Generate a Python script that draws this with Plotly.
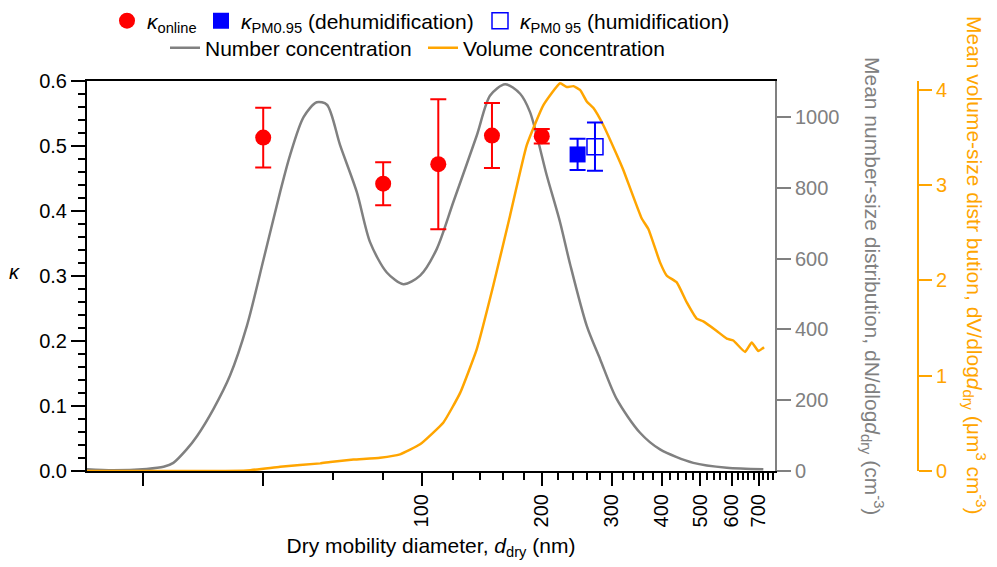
import plotly.graph_objects as go

# ---------------- data ----------------
num_diam = [14.4, 16.8, 20.4, 22.5, 23.8, 25.7, 27.3, 30.0, 33.0, 36.4, 40.1, 44.1, 46.7,
            50.5, 54.5, 57.8, 62.4, 68.7, 74.2, 81.7, 89.9, 99.0, 109.0, 120.0, 137.4,
            148.4, 161.8, 176.5, 186.9, 205.9, 222.3, 235.5, 259.4, 280.2, 308.5, 352.9,
            396.1, 480.1, 582.4, 719.5]
num_conc = [5, 2, 6, 12, 23, 61, 99, 175, 269, 410, 599, 788, 892,
            1000, 1042, 1035, 920, 788, 646, 561, 528, 552, 627, 760, 948,
            1061, 1093, 1066, 1014, 835, 703, 585, 410, 316, 203, 108,
            61, 23, 9, 5]

vol_diam = [14.4, 36.4, 44.1, 55.6, 58.9, 67.4, 78.6, 88.2, 99.0, 113.3, 124.8, 137.4,
            151.2, 166.5, 183.4, 201.9, 222.3, 231.1, 240.1, 249.5, 259.4, 269.6, 285.5,
            308.5, 320.4, 356.4, 370.3, 396.1, 411.9, 436.3, 462.3, 489.6, 508.6, 549.7,
            582.4, 604.8, 647.3, 672.9, 698.9, 722.5]
vol_conc = [0.0, 0.005, 0.045, 0.08, 0.095, 0.12, 0.14, 0.175, 0.28, 0.51, 0.82, 1.28,
            1.95, 2.68, 3.42, 3.84, 4.07, 4.03, 4.04, 4.00, 3.88, 3.81, 3.63,
            3.32, 3.16, 2.65, 2.54, 2.19, 2.05, 1.98, 1.77, 1.60, 1.57, 1.47,
            1.39, 1.37, 1.25, 1.35, 1.26, 1.30]

online_diam = [40, 80, 110, 150, 200]
online_kappa = [0.513, 0.442, 0.472, 0.516, 0.515]
online_err = [0.046, 0.033, 0.100, 0.050, 0.011]

dehum_diam = [246]
dehum_kappa = [0.487]
dehum_err = [0.024]

hum_diam = [272]
hum_kappa = [0.499]
hum_err = [0.037]

x_major = [20, 40, 100, 200, 300, 400, 500, 600, 700]
x_major_text = ["", "", "100", "200", "300", "400", "500", "600", "700"]
x_minor = [60, 80, 120, 140, 160, 180, 220, 240, 260, 280, 320, 340, 360, 380,
           420, 440, 460, 480, 520, 540, 560, 580, 620, 640, 660, 680, 720, 740, 760]
num_ticks = [0, 200, 400, 600, 800, 1000]
vol_ticks = [0, 1, 2, 3, 4]

GRAY = "#808080"
ORANGE = "#FFA500"
FONT = "Liberation Sans, Arial, sans-serif"

# the page body has an 8 px margin, so the figure is drawn 8 px right/down
W, H = 989, 559

fig = go.Figure()

fig.add_trace(go.Scatter(x=num_diam, y=num_conc, mode="lines", yaxis="y",
                         line=dict(color=GRAY, width=2.5, shape="spline", smoothing=0.8),
                         name="Number concentration", legend="legend4"))
fig.add_trace(go.Scatter(x=vol_diam, y=vol_conc, mode="lines", yaxis="y2",
                         line=dict(color=ORANGE, width=2.5, shape="spline", smoothing=0.4),
                         name="Volume concentration", legend="legend5"))
fig.add_trace(go.Scatter(x=online_diam, y=online_kappa, mode="markers", yaxis="y3",
                         marker=dict(color="#FF0000", size=16, symbol="circle"),
                         error_y=dict(type="data", array=online_err, color="#FF0000",
                                      thickness=2, width=8),
                         name="<i>κ</i><sub>online</sub>", legend="legend"))
fig.add_trace(go.Scatter(x=dehum_diam, y=dehum_kappa, mode="markers", yaxis="y3",
                         marker=dict(color="#0000FF", size=16, symbol="square"),
                         error_y=dict(type="data", array=dehum_err, color="#0000FF",
                                      thickness=2, width=8),
                         name="<i>κ</i><sub>PM0.95</sub> (dehumidification)", legend="legend2"))
fig.add_trace(go.Scatter(x=hum_diam, y=hum_kappa, mode="markers", yaxis="y3",
                         marker=dict(color="#0000FF", size=16, symbol="square-open",
                                     line=dict(width=1.5, color="#0000FF")),
                         error_y=dict(type="data", array=hum_err, color="#0000FF",
                                      thickness=2, width=8),
                         name="<i>κ</i><sub>PM0 95</sub> (humidification)", legend="legend3"))

def leg(xpx, ypx):
    return dict(x=xpx / W, y=1 - ypx / H, xref="container", yref="container",
                xanchor="left", yanchor="middle", orientation="h",
                bgcolor="rgba(0,0,0,0)", itemwidth=30,
                font=dict(family=FONT, size=21, color="black"))

# plot area (page px): x 87..775, y 81..471; orange axis at 918
PX0, PY0, PW, PH = 87, 471, 831, 390

fig.update_layout(
    width=W, height=H,
    margin=dict(l=79, r=79, t=73, b=96, autoexpand=False),
    paper_bgcolor="white", plot_bgcolor="white",
    font=dict(family=FONT, size=20, color="black"),
    showlegend=True,
    legend=leg(99, 13),
    legend2=leg(193, 13),
    legend3=leg(472, 13),
    legend4=leg(157, 40),
    legend5=leg(415, 40),
    xaxis=dict(type="log", range=[1.1599, 2.8863], domain=[0, 688 / 831],
               automargin=False,
               showline=True, linecolor="black", linewidth=2, mirror=True,
               ticks="outside", ticklen=13, tickwidth=2, tickcolor="black",
               tickvals=x_major, ticktext=x_major_text, tickangle=-90,
               tickfont=dict(size=20),
               showgrid=False, zeroline=False,
               minor=dict(tickvals=x_minor, ticks="outside", ticklen=7, tickwidth=2,
                          tickcolor="black", showgrid=False),
               title=dict(text="Dry mobility diameter, <i>d</i><sub>dry</sub> (nm)",
                          font=dict(size=21), standoff=12)),
    yaxis=dict(side="right", anchor="x", range=[0, 1102], automargin=False,
               showline=True, linecolor=GRAY, linewidth=2,
               ticks="outside", ticklen=14, tickwidth=2, tickcolor=GRAY,
               tickvals=num_ticks, tickfont=dict(color=GRAY, size=20),
               showgrid=False, zeroline=False),
    yaxis2=dict(overlaying="y", anchor="free", position=1, side="right", automargin=False,
                range=[0, 4.094], showline=True, linecolor=ORANGE, linewidth=2,
                ticks="outside", ticklen=13, tickwidth=2, tickcolor=ORANGE,
                tickvals=vol_ticks, tickfont=dict(color=ORANGE, size=20),
                showgrid=False, zeroline=False),
    yaxis3=dict(overlaying="y", anchor="x", side="left", range=[0, 0.6], automargin=False,
                dtick=0.1, tickformat=".1f",
                showline=True, linecolor="black", linewidth=2,
                ticks="outside", ticklen=14, tickwidth=2, tickcolor="black",
                tickfont=dict(size=20),
                minor=dict(dtick=0.02, ticks="outside", ticklen=7, tickwidth=2,
                           tickcolor="black", showgrid=False),
                showgrid=False, zeroline=False),
    annotations=[
        dict(text="<i>κ</i>", x=(14 - PX0) / PW, y=(PY0 - 272) / PH,
             xref="paper", yref="paper", showarrow=False,
             xanchor="center", yanchor="middle",
             font=dict(size=20, color="black")),
        dict(text="Mean number-size distribution, dN/dlog<i>d</i><sub>dry</sub> (cm<sup>-3</sup>)",
             x=(873 - PX0) / PW, y=(PY0 - 286) / PH, xref="paper", yref="paper",
             xanchor="center", yanchor="middle",
             showarrow=False, textangle=90, font=dict(size=21, color=GRAY)),
        dict(text="Mean volume-size distr bution, dV/dlog<i>d</i><sub>dry</sub> (μm<sup>3</sup> cm<sup>-3</sup>)",
             x=(975 - PX0) / PW, y=(PY0 - 265) / PH, xref="paper", yref="paper",
             xanchor="center", yanchor="middle",
             showarrow=False, textangle=90, font=dict(size=21, color=ORANGE)),
    ],
)

fig.write_html("out.html")
